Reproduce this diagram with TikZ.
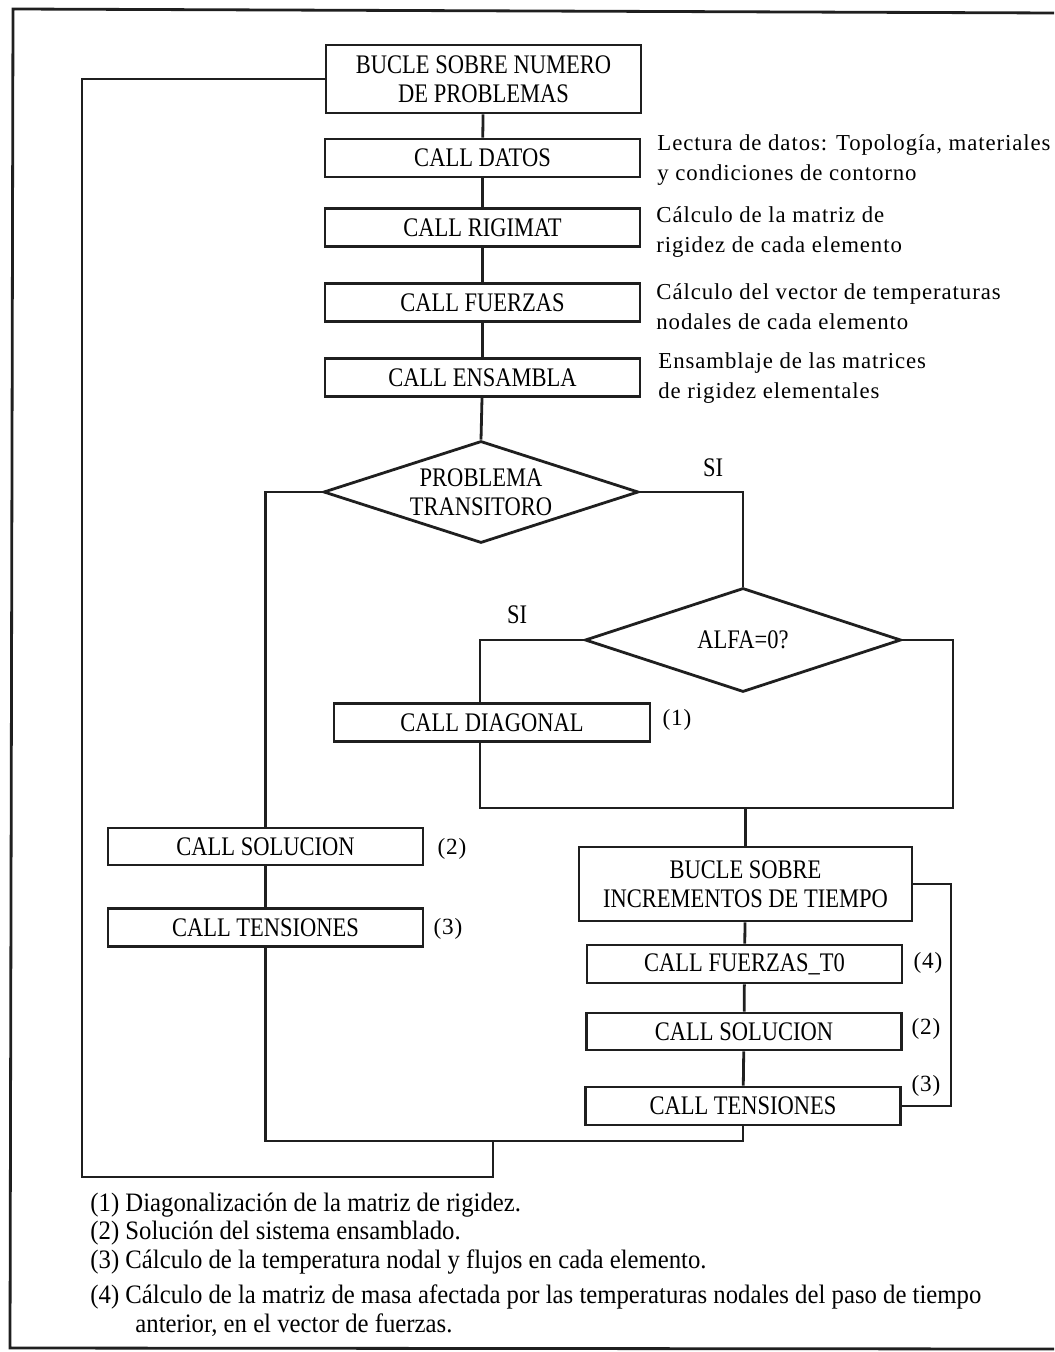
\documentclass[tikz,border=0pt]{standalone}
\usepackage{fontspec}
\setmainfont{Liberation Serif}
\newfontfamily\boxfont[FakeStretch=0.84]{Liberation Serif}
\newfontfamily\notefont[LetterSpace=4]{Liberation Serif}
\newfontfamily\footfont[FakeStretch=0.93]{Liberation Serif}
\usetikzlibrary{shapes.geometric,backgrounds}

\tikzset{
  ink/.style={draw=black!88, line width=1.4pt},
  flow/.style={ink, line join=miter},
  callbox/.style={ink, fill=white, rectangle, inner sep=0pt,
    minimum width=157.5pt, minimum height=19pt, align=center,
    font={\boxfont\fontsize{13.4}{14.5}\selectfont}},
  loopbox/.style={callbox, minimum height=34pt},
  decision/.style={ink, fill=white, diamond, inner sep=0pt, aspect=3,
    minimum width=157.5pt, minimum height=51pt, align=center,
    font={\boxfont\fontsize{13.4}{14.5}\selectfont}},
  note/.style={inner sep=0pt, align=left, anchor=west,
    font={\notefont\fontsize{11.4}{15}\selectfont}},
  ref/.style={inner sep=0pt, font={\notefont\fontsize{11.6}{14}\selectfont}},
  branch/.style={inner sep=0pt, font={\boxfont\fontsize{13.4}{14.5}\selectfont}},
  foot/.style={inner sep=0pt, anchor=west,
    font={\footfont\fontsize{13.3}{14}\selectfont}},
}

\begin{document}
\begin{tikzpicture}[x=0.5pt, y=-0.5pt]
\useasboundingbox (0,0) rectangle (1054,1352);

% page frame
\draw[ink] (1054,13) -- (13,9) -- (10,1348) -- (1054,1349);

% main sequence
\node[loopbox] (bp) at (483.5,79) {BUCLE SOBRE NUMERO\\DE PROBLEMAS};
\node[callbox] (datos) at (482.5,158) {CALL DATOS};
\node[callbox] (rigimat) at (482.5,227.5) {CALL RIGIMAT};
\node[callbox] (fuerzas) at (482.5,302.5) {CALL FUERZAS};
\node[callbox] (ensambla) at (482.5,377.5) {CALL ENSAMBLA};

\node[note] (n1) at (657,160) {Lectura de datos: Topología, materiales\\y condiciones de contorno};
\node[note] (n2) at (656,232) {Cálculo de la matriz de\\rigidez de cada elemento};
\node[note] (n3) at (656,307) {Cálculo del vector de temperaturas\\nodales de cada elemento};
\node[note] (n4) at (658,378) {Ensamblaje de las matrices\\de rigidez elementales};

% decisions
\node[decision] (transit) at (481,492) {PROBLEMA\\TRANSITORO};
\node[branch] (si1) at (713,468) {SI};
\node[decision, minimum height=52pt, minimum width=158pt] (alfa) at (743,640) {ALFA=0?};
\node[branch] (si2) at (517,615) {SI};

\node[callbox, minimum width=158pt] (diag) at (492,722.5) {CALL DIAGONAL};
\node[ref] (r1) at (677,720) {(1)};

% stationary branch
\node[callbox, minimum height=18.5pt] (solA) at (265.5,846.5) {CALL SOLUCION};
\node[ref] (r2a) at (452,849) {(2)};
\node[callbox] (tenA) at (265.5,927.5) {CALL TENSIONES};
\node[ref] (r3a) at (448,929) {(3)};

% transient branch
\node[loopbox, minimum width=166.5pt, minimum height=37pt] (bt) at (745.5,884) {BUCLE SOBRE\\INCREMENTOS DE TIEMPO};
\node[callbox] (ft0) at (744.5,964) {CALL FUERZAS\_T0};
\node[ref] (r4) at (928,963) {(4)};
\node[callbox, minimum height=18.5pt] (solB) at (744,1031.5) {CALL SOLUCION};
\node[ref] (r2b) at (926,1029) {(2)};
\node[callbox] (tenB) at (743,1106) {CALL TENSIONES};
\node[ref] (r3b) at (926,1086) {(3)};

% junction points
\coordinate (al) at (480,808);
\coordinate (ar) at (953,640);
\coordinate (tr) at (951,1000);
\coordinate (jb) at (743,1141);
\coordinate (mrg) at (493,1141);
\coordinate (lp) at (82,1177);

\begin{pgfonlayer}{background}
  \draw[flow] (bp) -- (datos);
  \draw[flow] (datos) -- (rigimat);
  \draw[flow] (rigimat) -- (fuerzas);
  \draw[flow] (fuerzas) -- (ensambla);
  \draw[flow] (ensambla) -- (transit.north);
  % NO branch of the transient test
  \draw[flow] (transit.west) -| (solA.north);
  \draw[flow] (solA) -- (tenA);
  \draw[flow] (tenA.south) |- (jb) -- (tenB.south);
  % YES branch
  \draw[flow] (transit.east) -| (alfa.north);
  \draw[flow] (alfa.west) -| (al) -| (ar) -- (alfa.east);
  \draw[flow] (bt.north |- al) -- (bt.north);
  \draw[flow] (bt) -- (ft0);
  \draw[flow] (ft0) -- (solB);
  \draw[flow] (solB) -- (tenB);
  % time-step loop
  \draw[flow] (bt.east) -| (tr) |- (tenB.east);
  % problem loop
  \draw[flow] (mrg) |- (lp) |- (bp.west);
\end{pgfonlayer}

% footnotes
\node[foot] (f1) at (90,1205) {(1) Diagonalización de la matriz de rigidez.};
\node[foot] (f2) at (90,1233) {(2) Solución del sistema ensamblado.};
\node[foot] (f3) at (90,1262) {(3) Cálculo de la temperatura nodal y flujos en cada elemento.};
\node[foot] (f4) at (90,1297) {(4) Cálculo de la matriz de masa afectada por las temperaturas nodales del paso de tiempo};
\node[foot] (f5) at (135,1325) {anterior, en el vector de fuerzas.};
\end{tikzpicture}
\end{document}
